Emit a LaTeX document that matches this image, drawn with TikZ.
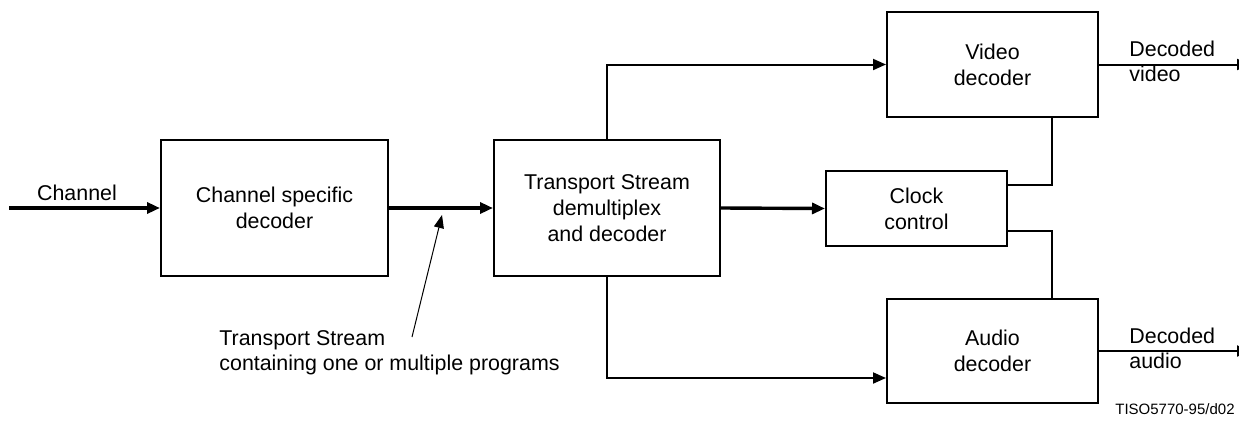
\documentclass[tikz,border=0pt]{standalone}
\usepackage{fontspec}
\setmainfont{Liberation Sans}
\usetikzlibrary{arrows.meta}
\begin{document}
\begin{tikzpicture}[x=0.5pt,y=-0.5pt,
  blk/.style={draw,line width=1pt,align=center,font=\fontsize{10.7pt}{13pt}\selectfont,inner sep=0pt},
  lbl/.style={align=left,font=\fontsize{10.7pt}{12.5pt}\selectfont,inner sep=0pt},
  tip/.style={-{Triangle[length=6.5pt,width=5.5pt]}},
  heavy/.style={tip,line width=1.7pt},
  light/.style={line width=1pt}]
\useasboundingbox (0,0) rectangle (1239,424);
\clip (0,0) rectangle (1239,424);
\node[blk,minimum width=113.5pt,minimum height=68pt] (chan) at (274.5,208) {Channel specific\\decoder};
\node[blk,minimum width=113pt,minimum height=68pt] (demux) at (607,208) {Transport Stream\\demultiplex\\and decoder};
\node[blk,minimum width=90.5pt,minimum height=37.5pt] (clock) at (916.5,208.5) {Clock\\control};
\node[blk,minimum width=105.5pt,minimum height=52.5pt] (video) at (992.5,64.5) {Video\\decoder};
\node[blk,minimum width=105.5pt,minimum height=52pt] (audio) at (992.5,351) {Audio\\decoder};
\coordinate (in) at (9,208);
\coordinate (vout) at (1250,64.5);
\coordinate (aout) at (1250,351);
\coordinate (anntail) at (412,337);
\coordinate (anntip) at (442,215);
\draw[heavy] (in) -- (chan.west);
\node[lbl,anchor=base] (chlbl) at (77,200) {Channel};
\draw[heavy] (chan.east) -- (demux.west);
\draw[heavy] (demux.east) -- (clock.west);
\draw[tip,light] (demux.north) |- (video.west);
\draw[tip,light] (demux.south) |- ([yshift=-13.5pt]audio.west);
\draw[light] ([yshift=11.75pt]clock.east) -| ([xshift=29.75pt]video.south);
\draw[light] ([yshift=-11.25pt]clock.east) -| ([xshift=29.75pt]audio.north);
\draw[tip,light] (video.east) -- (vout);
\draw[tip,light] (audio.east) -- (aout);
\node[lbl,anchor=north west] (vlbl) at (1129,41) {Decoded\\video};
\node[lbl,anchor=north west] (albl) at (1129,328) {Decoded\\audio};
\draw[-{Triangle[length=6.5pt,width=5pt]},line width=0.5pt] (anntail) -- (anntip);
\node[lbl,anchor=north west] (annlbl) at (219,330) {Transport Stream\\containing one or multiple programs};
\node[inner sep=0pt,anchor=base east,font=\fontsize{7.5pt}{9pt}\selectfont] (fig) at (1235,414) {TISO5770-95/d02};
\end{tikzpicture}
\end{document}
